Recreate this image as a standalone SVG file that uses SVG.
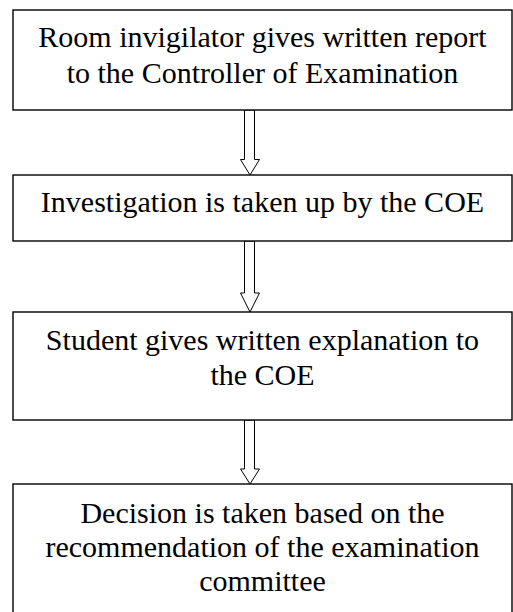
<svg xmlns="http://www.w3.org/2000/svg" width="513" height="612" viewBox="0 0 513 612">
<style>
.box{fill:#fff;stroke:#000;stroke-width:1.4}
.arr{fill:#fff;stroke:#000;stroke-width:1}
.t{font-size:30px;fill:#000;text-anchor:middle}
</style>
<rect width="513" height="612" fill="#fff"/>
<g id="connectors">
<polygon class="arr" points="244.5,110 254.5,110 254.5,159.5 259.5,159.5 250,175 240.5,159.5 244.5,159.5"/>
<polygon class="arr" points="244.5,241 254.5,241 254.5,293 259.5,293 250,312 240.5,293 244.5,293"/>
<polygon class="arr" points="244.5,420 254.5,420 254.5,469 259.5,469 250,484 240.5,469 244.5,469"/>
</g>
<g font-family="'Liberation Serif', 'Times New Roman', serif">
<g id="node1">
<rect class="box" x="13" y="10" width="499" height="100"/>
<text class="t" x="262.5" y="47">Room invigilator gives written report</text>
<text class="t" x="262.5" y="83">to the Controller of Examination</text>
</g>
<g id="node2">
<rect class="box" x="13" y="175" width="499" height="66"/>
<text class="t" x="262.5" y="212">Investigation is taken up by the COE</text>
</g>
<g id="node3">
<rect class="box" x="13" y="312" width="499" height="108"/>
<text class="t" x="262.5" y="350">Student gives written explanation to</text>
<text class="t" x="262.5" y="385">the COE</text>
</g>
<g id="node4">
<rect class="box" x="13" y="484" width="499" height="140"/>
<text class="t" x="262.5" y="523">Decision is taken based on the</text>
<text class="t" x="262.5" y="557">recommendation of the examination</text>
<text class="t" x="262.5" y="591">committee</text>
</g>
</g>
</svg>
